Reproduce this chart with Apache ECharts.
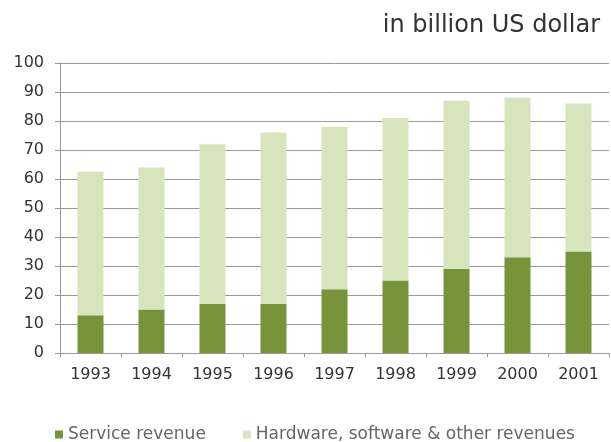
<!DOCTYPE html>
<html><head><meta charset="utf-8">
<script src="https://cdn.jsdelivr.net/npm/echarts@6/dist/echarts.min.js"></script>
<style>html,body{margin:0;padding:0;background:#fff}#c{width:611px;height:442px}</style>
</head><body><div id="c"></div>
<script>
const categories = ['1993','1994','1995','1996','1997','1998','1999','2000','2001'];
const serviceRevenue = [13, 15, 17, 17, 22, 25, 29, 33, 35];
const hardwareRevenue = [49.5, 49, 55, 59, 56, 56, 58, 55, 51];
const yTicks = [0,10,20,30,40,50,60,70,80,90,100];
const seriesNames = ['Service revenue', 'Hardware, software & other revenues'];
const unitLabel = 'in billion US dollar';

const chart = echarts.init(document.getElementById('c'), null, {renderer:'canvas'});
const font = 'DejaVu Sans, sans-serif';
chart.setOption({
  animation:false,
  textStyle:{fontFamily:font},
  title:{text:unitLabel, right:6, top:9, textStyle:{fontSize:24, fontWeight:'normal', color:'#333', fontFamily:font}},
  grid:{left:60, right:2, top:63, bottom:89, containLabel:false},
  legend:{
    top:421, left:50, itemWidth:8, itemHeight:8, itemGap:37,
    icon:'rect',
    textStyle:{fontSize:17, color:'#666', fontFamily:font},
    data:seriesNames
  },
  xAxis:{
    type:'category', data:categories,
    axisLine:{lineStyle:{color:'#999'}},
    axisTick:{show:true, length:4, lineStyle:{color:'#999'}},
    axisLabel:{fontSize:16, color:'#333', margin:14, fontFamily:font}
  },
  yAxis:{
    type:'value', min:yTicks[0], max:yTicks[yTicks.length-1], interval:10,
    axisLine:{show:true, lineStyle:{color:'#999'}},
    axisTick:{show:true, length:5, lineStyle:{color:'#999'}},
    axisLabel:{fontSize:16, color:'#333', margin:16, fontFamily:font},
    splitLine:{lineStyle:{color:'#999', width:1}}
  },
  series:[
    {name:seriesNames[0], type:'bar', stack:'t', data:serviceRevenue, barWidth:26,
     itemStyle:{color:'#77943a'}},
    {name:seriesNames[1], type:'bar', stack:'t', data:hardwareRevenue, barWidth:26,
     itemStyle:{color:'#d8e4bc'}}
  ]
});
</script></body></html>
